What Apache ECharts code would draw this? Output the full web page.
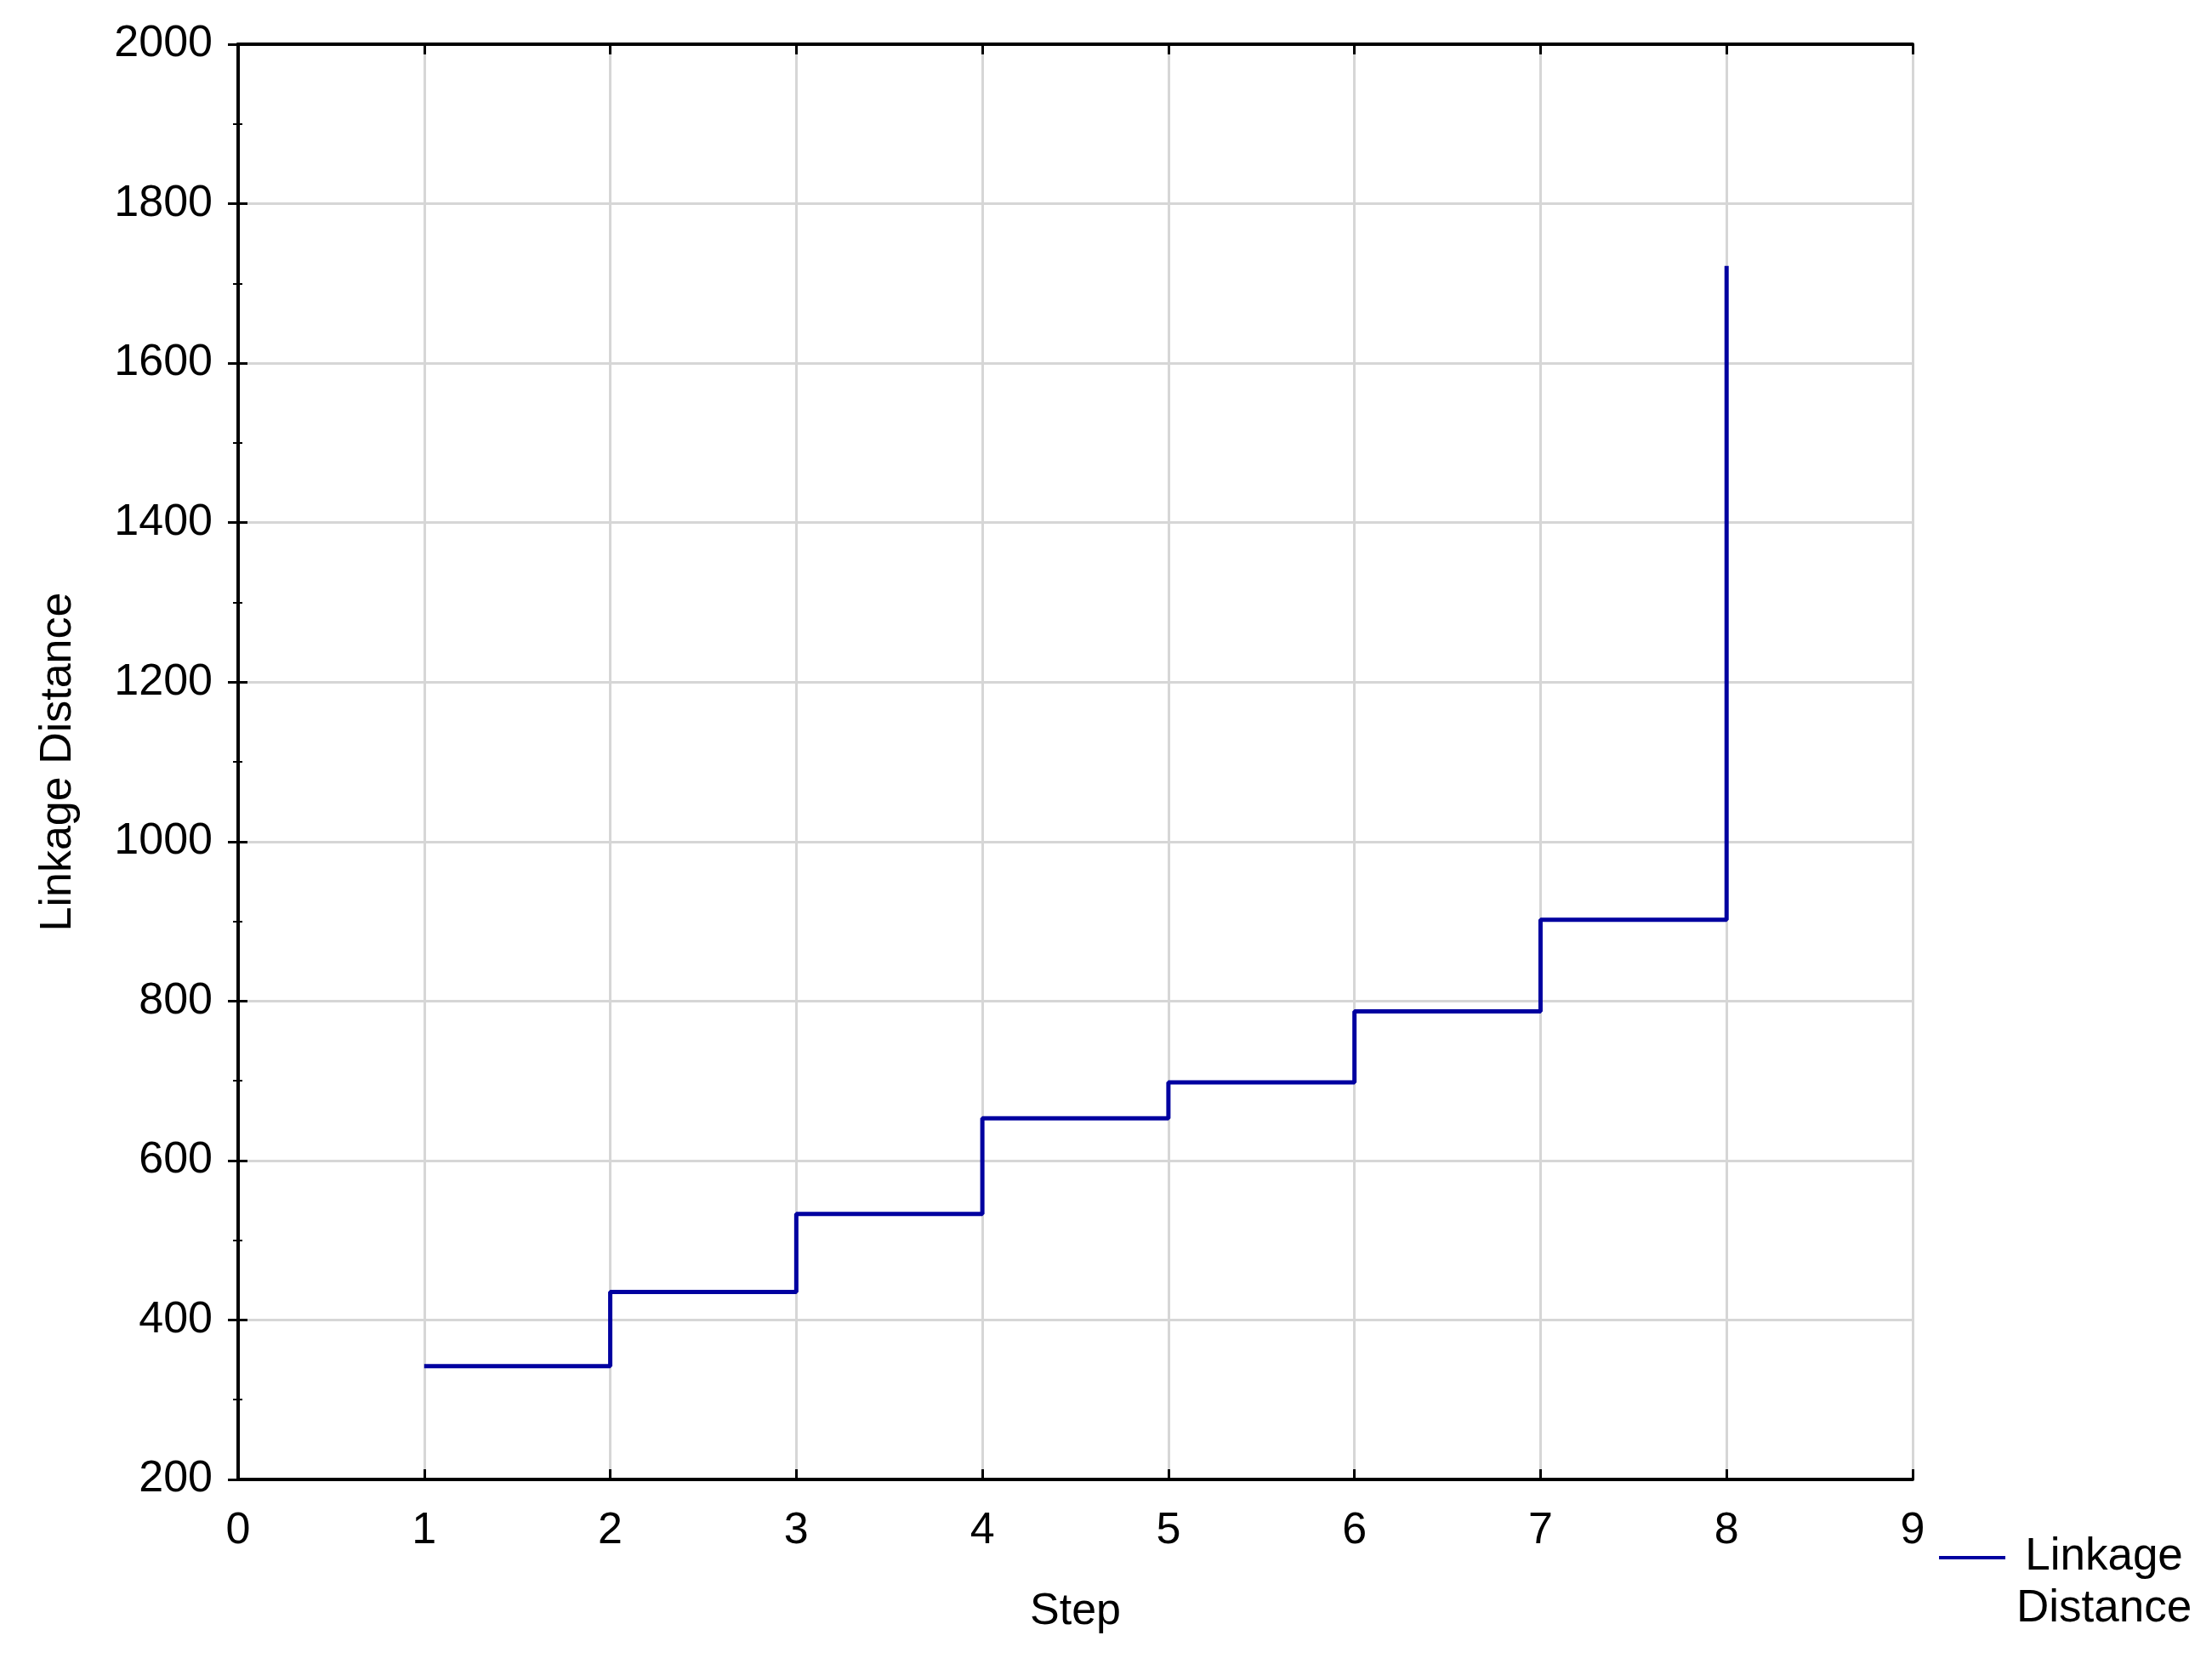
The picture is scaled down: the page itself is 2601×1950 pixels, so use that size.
<!DOCTYPE html>
<html>
<head>
<meta charset="utf-8">
<script src="https://cdn.jsdelivr.net/npm/echarts@6/dist/echarts.min.js"></script>
<style>
html,body{margin:0;padding:0;background:#fff;}
#chart{width:2601px;height:1950px;}
</style>
</head>
<body>
<div id="chart"></div>
<script>
// ---- data ----
const steps = [1, 2, 3, 4, 5, 6, 7, 8];
const linkageDistance = [342, 435, 533, 653, 698, 787, 902, 1722];
const seriesName = 'Linkage Distance';
const xTicks = [0, 1, 2, 3, 4, 5, 6, 7, 8, 9];
const yTicks = [200, 400, 600, 800, 1000, 1200, 1400, 1600, 1800, 2000];

const FONT = '"Liberation Sans", Arial, sans-serif';
const chart = echarts.init(document.getElementById('chart'), null, {renderer: 'canvas'});

const axisLine = {show: true, lineStyle: {color: '#000', width: 4}};
const gridLine = {show: true, lineStyle: {color: '#d6d6d6', width: 3, type: 'solid'}};

const xMin = xTicks[0], xMax = xTicks[xTicks.length - 1];
const yMin = yTicks[0], yMax = yTicks[yTicks.length - 1];
const xInt = xTicks[1] - xTicks[0], yInt = yTicks[1] - yTicks[0];

chart.setOption({
  backgroundColor: '#fff',
  animation: false,
  grid: {left: 280, right: 352, top: 52, bottom: 210, containLabel: false},
  legend: {
    left: 2275,
    top: 1800,
    icon: 'rect',
    itemWidth: 78,
    itemHeight: 4,
    itemGap: 0,
    data: [seriesName],
    formatter: function () { return '{a|Linkage}\n{a|Distance}'; },
    textStyle: {
      fontFamily: FONT,
      fontSize: 53,
      color: '#000',
      padding: [60, 0, 0, 0],
      rich: {
        a: {fontFamily: FONT, fontSize: 53, color: '#000', lineHeight: 61, width: 222, align: 'center'}
      }
    }
  },
  xAxis: [
    {
      type: 'value', position: 'bottom', min: xMin, max: xMax, interval: xInt,
      name: 'Step', nameLocation: 'middle', nameGap: 130,
      nameTextStyle: {fontFamily: FONT, fontSize: 52, color: '#000'},
      axisLine: axisLine,
      axisTick: {show: true, inside: true, length: 12, lineStyle: {color: '#000', width: 3}},
      axisLabel: {fontFamily: FONT, fontSize: 52, color: '#000', margin: 35, formatter: v => String(v)},
      splitLine: gridLine
    },
    {
      type: 'value', position: 'top', min: xMin, max: xMax, interval: xInt,
      axisLine: axisLine,
      axisTick: {show: true, inside: true, length: 12, lineStyle: {color: '#000', width: 3}},
      axisLabel: {show: false},
      splitLine: {show: false}
    }
  ],
  yAxis: [
    {
      type: 'value', position: 'left', min: yMin, max: yMax, interval: yInt,
      name: 'Linkage Distance', nameLocation: 'middle', nameGap: 185, nameRotate: 90,
      nameTextStyle: {fontFamily: FONT, fontSize: 52, color: '#000'},
      axisLine: axisLine,
      axisTick: {show: true, inside: true, length: 11, lineStyle: {color: '#000', width: 3}},
      minorTick: {show: true, splitNumber: 2, length: 5, lineStyle: {color: '#000', width: 2}},
      axisLabel: {fontFamily: FONT, fontSize: 52, color: '#000', margin: 30, formatter: v => String(v)},
      splitLine: gridLine
    },
    {
      type: 'value', position: 'right', min: yMin, max: yMax, interval: yInt,
      axisLine: axisLine,
      axisTick: {show: true, inside: true, length: 12, lineStyle: {color: '#000', width: 3}},
      minorTick: {show: true, splitNumber: 2, length: 6, lineStyle: {color: '#000', width: 2}},
      axisLabel: {show: false},
      splitLine: {show: false}
    }
  ],
  series: [
    {
      name: seriesName,
      type: 'line',
      step: 'end',
      xAxisIndex: 0,
      yAxisIndex: 0,
      symbol: 'none',
      z: 5,
      color: '#0000a0',
      lineStyle: {color: '#0000a0', width: 5},
      data: steps.map((s, i) => [s, linkageDistance[i]])
    }
  ]
});
</script>
</body>
</html>
